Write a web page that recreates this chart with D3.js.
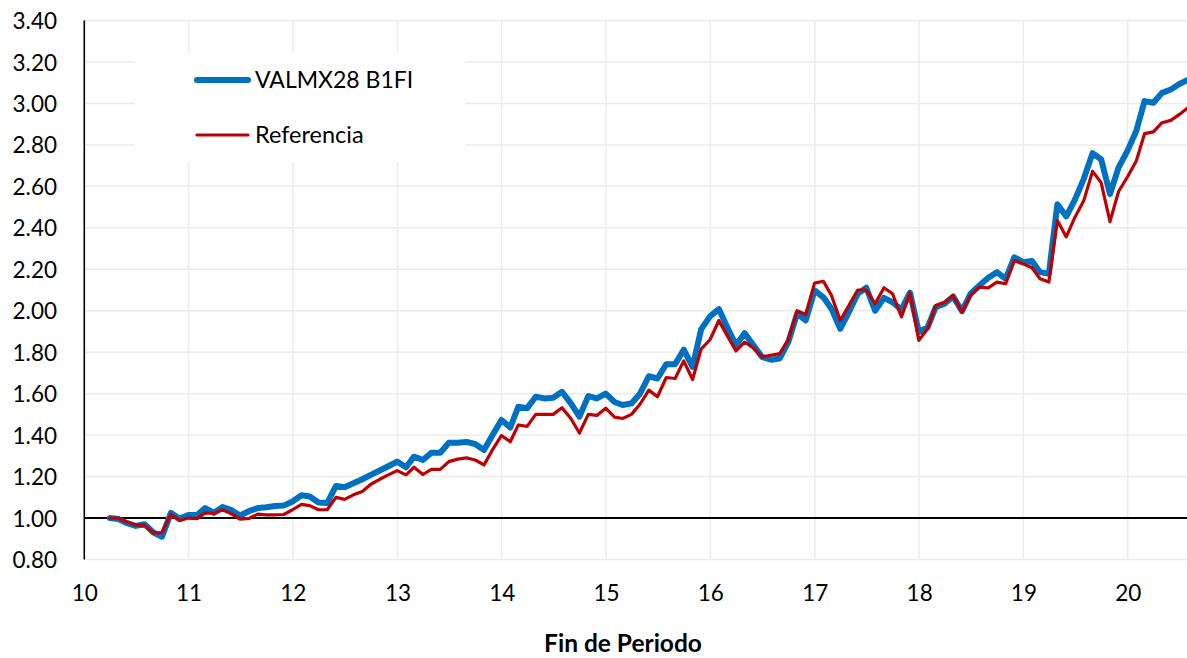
<!DOCTYPE html>
<html>
<head>
<meta charset="utf-8">
<script src="https://cdn.jsdelivr.net/npm/d3@7/dist/d3.min.js"></script>
<style>
  html, body { margin: 0; padding: 0; background: #ffffff; }
  svg { display: block; }
  text { font-family: Lato, "Liberation Sans", sans-serif; fill: #000; }
</style>
</head>
<body>
<svg id="chart" width="1187" height="658"></svg>
<script>
// ---- Data (monthly, month-end, Mar 2010 .. Jul 2020) ----
const startMonth = "2010-03";
const endMonth = "2020-07";
const seriesNames = ["VALMX28 B1FI", "Referencia"];
const fundValues = [
  1.000, 0.995, 0.975, 0.962, 0.970, 0.930, 0.910, 1.025, 0.997, 1.015,
  1.015, 1.048, 1.025, 1.053, 1.038, 1.012, 1.033, 1.048, 1.052, 1.058,
  1.060, 1.080, 1.110, 1.104, 1.075, 1.072, 1.155, 1.149, 1.168, 1.187,
  1.208, 1.229, 1.250, 1.272, 1.245, 1.296, 1.280, 1.315, 1.315, 1.363,
  1.363, 1.367, 1.357, 1.328, 1.400, 1.473, 1.437, 1.537, 1.530, 1.585,
  1.577, 1.580, 1.609, 1.553, 1.489, 1.588, 1.577, 1.600, 1.560, 1.545,
  1.553, 1.600, 1.684, 1.673, 1.742, 1.742, 1.812, 1.729, 1.910, 1.973,
  2.008, 1.921, 1.833, 1.892, 1.833, 1.777, 1.764, 1.770, 1.849, 1.986,
  1.953, 2.098, 2.065, 2.010, 1.913, 1.993, 2.082, 2.111, 2.000, 2.062,
  2.041, 2.005, 2.087, 1.897, 1.921, 2.017, 2.034, 2.069, 1.998, 2.082,
  2.122, 2.159, 2.186, 2.154, 2.258, 2.234, 2.240, 2.186, 2.178, 2.514,
  2.455, 2.535, 2.635, 2.760, 2.731, 2.563, 2.690, 2.771, 2.867, 3.011,
  3.003, 3.051, 3.067, 3.094, 3.115
];
const benchValues = [
  1.000, 1.000, 0.980, 0.966, 0.966, 0.928, 0.930, 1.018, 0.987, 1.000,
  0.997, 1.025, 1.022, 1.040, 1.020, 0.995, 0.998, 1.019, 1.015, 1.015,
  1.017, 1.040, 1.066, 1.060, 1.040, 1.040, 1.100, 1.090, 1.112, 1.128,
  1.163, 1.187, 1.208, 1.229, 1.208, 1.245, 1.210, 1.235, 1.235, 1.272,
  1.284, 1.290, 1.280, 1.256, 1.330, 1.398, 1.368, 1.449, 1.442, 1.500,
  1.500, 1.500, 1.532, 1.480, 1.410, 1.500, 1.495, 1.530, 1.487, 1.480,
  1.500, 1.549, 1.617, 1.585, 1.678, 1.673, 1.758, 1.668, 1.815, 1.860,
  1.953, 1.881, 1.806, 1.849, 1.820, 1.777, 1.785, 1.793, 1.860, 2.000,
  1.982, 2.133, 2.142, 2.074, 1.953, 2.025, 2.100, 2.100, 2.034, 2.111,
  2.082, 1.970, 2.085, 1.857, 1.913, 2.025, 2.041, 2.074, 1.993, 2.074,
  2.114, 2.110, 2.138, 2.130, 2.242, 2.226, 2.207, 2.154, 2.138, 2.435,
  2.356, 2.450, 2.530, 2.673, 2.618, 2.430, 2.575, 2.645, 2.722, 2.854,
  2.863, 2.907, 2.918, 2.947, 2.980
];
const yTickValues = [0.8, 1.0, 1.2, 1.4, 1.6, 1.8, 2.0, 2.2, 2.4, 2.6, 2.8, 3.0, 3.2, 3.4];
const xTickYears = [2010, 2011, 2012, 2013, 2014, 2015, 2016, 2017, 2018, 2019, 2020];
const xAxisTitle = "Fin de Periodo";

(function () {
  // ---- Build month-end dates ----
  const parseM = d3.timeParse("%Y-%m");
  const firstOfNext = d3.timeMonth.range(d3.timeMonth.offset(parseM(startMonth), 1),
                                         d3.timeMonth.offset(parseM(endMonth), 2));
  const dates = firstOfNext.map(d => d3.timeDay.offset(d, -1));
  const fund = dates.map((d, i) => ({ date: d, v: fundValues[i] }));
  const bench = dates.map((d, i) => ({ date: d, v: benchValues[i] }));

  // ---- Layout ----
  const pLeft = 84.3, pRight = 1187, pTop = 20.5, pBottom = 559.5;
  const svg = d3.select("#chart");

  const x = d3.scaleTime()
    .domain([new Date(2010, 0, 1), new Date(2020, 0, 1)])
    .range([pLeft, 1127.7]);
  const y = d3.scaleLinear().domain([0.8, 3.4]).range([pBottom, pTop]);

  // gridlines
  const grid = svg.append("g");
  grid.selectAll("line.h").data(yTickValues).join("line").attr("class", "h")
    .attr("x1", pLeft).attr("x2", pRight)
    .attr("y1", d => y(d)).attr("y2", d => y(d))
    .attr("stroke", "#ececec").attr("stroke-width", 1.5);
  grid.selectAll("line.v").data(xTickYears.slice(1)).join("line").attr("class", "v")
    .attr("x1", d => x(new Date(d, 0, 1))).attr("x2", d => x(new Date(d, 0, 1)))
    .attr("y1", pTop).attr("y2", pBottom)
    .attr("stroke", "#ececec").attr("stroke-width", 1.5);

  // legend background (covers gridlines)
  svg.append("rect").attr("x", 135).attr("y", 52).attr("width", 330).attr("height", 110)
    .attr("fill", "#ffffff");

  // y axis labels
  const yAxis = d3.axisLeft(y).tickValues(yTickValues).tickSize(0).tickPadding(0)
    .tickFormat(d3.format(".2f"));
  const gy = svg.append("g").attr("transform", "translate(57,0)").call(yAxis);
  gy.select(".domain").remove();
  gy.selectAll("text").attr("font-size", 22.5).attr("font-family", "Lato, sans-serif")
    .attr("fill", "#000").attr("dy", "0.36em");

  svg.append("line").attr("x1", pLeft).attr("x2", pLeft).attr("y1", pTop).attr("y2", pBottom)
    .attr("stroke", "#000").attr("stroke-width", 1.6);

  // x axis labels
  const xAxis = d3.axisBottom(x).tickValues(xTickYears.map(yr => new Date(yr, 0, 1)))
    .tickSize(0).tickPadding(0).tickFormat(d3.timeFormat("%y"));
  const gx = svg.append("g").attr("transform", "translate(0,601)").call(xAxis);
  gx.select(".domain").remove();
  gx.selectAll("text").attr("font-size", 22.5).attr("font-family", "Lato, sans-serif")
    .attr("fill", "#000").attr("dy", 0).attr("y", 0);

  // 1.00 reference line
  svg.append("line").attr("x1", pLeft).attr("x2", pRight).attr("y1", y(1)).attr("y2", y(1))
    .attr("stroke", "#000").attr("stroke-width", 2);

  // lines
  const line = d3.line().x(d => x(d.date)).y(d => y(d.v));
  svg.append("path").datum(fund).attr("d", line)
    .attr("fill", "none").attr("stroke", "#0070C0").attr("stroke-width", 6)
    .attr("stroke-linejoin", "round").attr("stroke-linecap", "round");
  svg.append("path").datum(bench).attr("d", line)
    .attr("fill", "none").attr("stroke", "#C00000").attr("stroke-width", 3.2)
    .attr("stroke-linejoin", "round").attr("stroke-linecap", "round");

  // legend
  const lg = svg.append("g");
  lg.append("line").attr("x1", 197).attr("x2", 248).attr("y1", 80).attr("y2", 80)
    .attr("stroke", "#0070C0").attr("stroke-width", 6).attr("stroke-linecap", "round");
  lg.append("text").attr("x", 255).attr("y", 88).attr("font-size", 23).text(seriesNames[0]);
  lg.append("line").attr("x1", 197).attr("x2", 248).attr("y1", 135).attr("y2", 135)
    .attr("stroke", "#C00000").attr("stroke-width", 3.2).attr("stroke-linecap", "round");
  lg.append("text").attr("x", 255).attr("y", 142.5).attr("font-size", 23.5).text(seriesNames[1]);

  // axis title
  svg.append("text").attr("x", 623).attr("y", 652).attr("text-anchor", "middle")
    .attr("font-size", 24.5).attr("font-weight", "bold").text(xAxisTitle);
})();
</script>
</body>
</html>
